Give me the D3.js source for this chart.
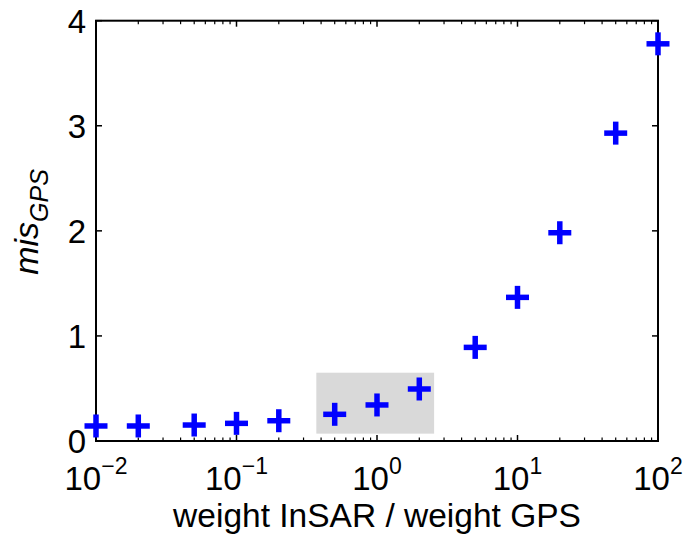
<!DOCTYPE html>
<html><head><meta charset="utf-8">
<script src="https://cdn.jsdelivr.net/npm/d3@7"></script>
<style>body{margin:0;background:#fff}svg{display:block;font-family:"Liberation Sans",Arial,Helvetica,sans-serif}</style>
</head><body><svg id="c" width="684" height="538"></svg>
<script>
const weightRatio = [0.01, 0.02, 0.05, 0.1, 0.2, 0.5, 1, 2, 5, 10, 20, 50, 100];
const misGPS = [0.143, 0.143, 0.152, 0.168, 0.193, 0.254, 0.343, 0.495, 0.891, 1.367, 1.982, 2.93, 3.78];
const xTickExp = [-2, -1, 0, 1, 2];
const yTicks = [0, 1, 2, 3, 4];
const highlightX = [0.37, 2.55];
const highlightY = [0.07, 0.65];

const svg = d3.select("#c");
const L = 96, R = 658, T = 20.7, B = 441;
const x = d3.scaleLog().domain([0.01, 100]).range([L, R]);
const y = d3.scaleLinear().domain([0, 4]).range([B, T]);

svg.append("rect")
  .attr("x", x(highlightX[0])).attr("y", y(highlightY[1]))
  .attr("width", x(highlightX[1]) - x(highlightX[0]))
  .attr("height", y(highlightY[0]) - y(highlightY[1]))
  .attr("fill", "#d9d9d9");

const minor = [];
for (let e = -2; e < 2; e++) for (let k = 2; k <= 9; k++) minor.push(k * Math.pow(10, e));
const g = svg.append("g").attr("stroke", "#000");
minor.forEach(v => {
  g.append("line").attr("x1", x(v)).attr("x2", x(v)).attr("y1", B).attr("y2", B - 3.5).attr("stroke-width", 1.2);
  g.append("line").attr("x1", x(v)).attr("x2", x(v)).attr("y1", T).attr("y2", T + 3.5).attr("stroke-width", 1.2);
});
xTickExp.forEach(e => {
  const v = Math.pow(10, e);
  g.append("line").attr("x1", x(v)).attr("x2", x(v)).attr("y1", B).attr("y2", B - 6).attr("stroke-width", 1.5);
  g.append("line").attr("x1", x(v)).attr("x2", x(v)).attr("y1", T).attr("y2", T + 6).attr("stroke-width", 1.5);
});
yTicks.forEach(v => {
  g.append("line").attr("x1", L).attr("x2", L + 6).attr("y1", y(v)).attr("y2", y(v)).attr("stroke-width", 1.5);
  g.append("line").attr("x1", R).attr("x2", R - 6).attr("y1", y(v)).attr("y2", y(v)).attr("stroke-width", 1.5);
});
svg.append("rect").attr("x", L).attr("y", T).attr("width", R - L).attr("height", B - T)
  .attr("fill", "none").attr("stroke", "#000").attr("stroke-width", 2);

svg.append("g").selectAll("text").data(yTicks).join("text")
  .attr("x", L - 10).attr("y", d => y(d)).attr("dy", "0.36em")
  .attr("text-anchor", "end").attr("font-size", 33).text(d => d);

xTickExp.forEach(e => {
  const t = svg.append("text").attr("x", x(Math.pow(10, e))).attr("y", 490)
    .attr("text-anchor", "middle").attr("font-size", 33);
  t.append("tspan").text("10");
  t.append("tspan").attr("dy", -16).attr("font-size", 23).text(e < 0 ? "\u2212" + (-e) : e);
});

svg.append("text").attr("x", 377).attr("y", 527).attr("text-anchor", "middle")
  .attr("font-size", 33.5).text("weight InSAR / weight GPS");
const yl = svg.append("text").attr("transform", "translate(38,222) rotate(-90)")
  .attr("text-anchor", "middle").attr("font-size", 34).attr("font-style", "italic");
yl.append("tspan").text("mis");
yl.append("tspan").attr("dy", 10).attr("font-size", 25).text("GPS");

const s = 11.5;
const pts = svg.append("g").attr("stroke", "#0000ff").attr("stroke-width", 5.5);
weightRatio.forEach((v, i) => {
  const cx = x(v), cy = y(misGPS[i]);
  pts.append("line").attr("x1", cx - s).attr("x2", cx + s).attr("y1", cy).attr("y2", cy);
  pts.append("line").attr("x1", cx).attr("x2", cx).attr("y1", cy - s).attr("y2", cy + s);
});
</script></body></html>
